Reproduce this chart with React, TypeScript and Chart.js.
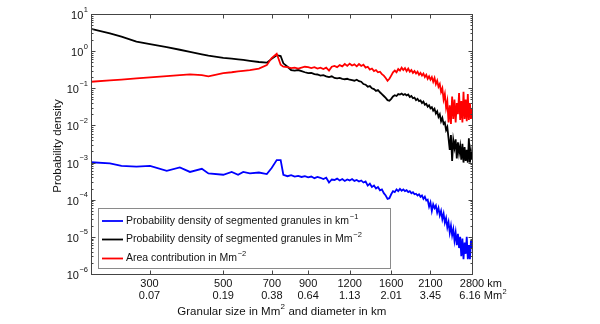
import React, { useEffect, useRef } from 'react';
import { Chart, registerables } from 'chart.js';

Chart.register(...registerables);

// Granule diameter in km (x positions of the binned distributions)
const diameterKm = [
  200, 228, 247, 274, 301, 338, 370, 397, 431, 451, 500, 530, 554, 574, 601, 640, 676, 699, 724, 744, 758,
  780, 800, 820, 840, 860, 880, 900, 920, 940, 960,
  980, 1000, 1020, 1040, 1060, 1080, 1100, 1120, 1140, 1160,
  1180, 1200, 1220, 1240, 1260, 1280, 1300, 1320, 1340, 1360,
  1380, 1400, 1420, 1440, 1460, 1480, 1500, 1520, 1540, 1560,
  1580, 1600, 1620, 1640, 1660, 1680, 1700, 1720, 1740, 1760,
  1780, 1800, 1820, 1840, 1860, 1880, 1900, 1920, 1940, 1960,
  1980, 2000, 2020, 2040, 2060, 2080, 2100, 2120, 2140, 2160,
  2180, 2200, 2220, 2240, 2260, 2280, 2300, 2320, 2340, 2360,
  2380, 2400, 2420, 2440, 2460, 2480, 2500, 2520, 2540, 2560,
  2580, 2600, 2620, 2640, 2660, 2680, 2700, 2720, 2740, 2760,
  2780, 2800,
];

// Probability density of segmented granules in km^-1 (blue)
const pdfPerKm = [
  1.02e-3, 9.5e-4, 8.1e-4, 7.8e-4, 8.1e-4, 6.0e-4, 7.4e-4, 5.6e-4, 6.8e-4, 5.1e-4, 4.7e-4, 5.6e-4, 4.7e-4, 5.6e-4, 5.1e-4, 5.4e-4, 4.9e-4, 7.1e-4, 1.17e-3, 1.17e-3, 4.7e-4,
  4.3e-4, 4.6e-4, 4.2e-4, 4.4e-4, 4.1e-4, 4.3e-4, 4.0e-4, 4.2e-4, 3.8e-4, 4.1e-4,
  3.9e-4, 3.6e-4, 3.9e-4, 2.9e-4, 3.5e-4, 3.4e-4, 3.7e-4, 3.3e-4, 3.6e-4, 3.2e-4,
  3.5e-4, 3.3e-4, 3.6e-4, 3.2e-4, 3.4e-4, 3.1e-4, 3.3e-4, 2.9e-4, 3.1e-4, 2.4e-4,
  2.7e-4, 2.2e-4, 2.4e-4, 2.0e-4, 2.2e-4, 1.8e-4, 1.9e-4, 1.5e-4, 1.3e-4, 1.05e-4,
  1.1e-4, 1.4e-4, 1.7e-4, 1.6e-4, 1.9e-4, 1.7e-4, 1.95e-4, 1.75e-4, 1.9e-4, 1.7e-4,
  1.8e-4, 1.6e-4, 1.7e-4, 1.5e-4, 1.6e-4, 1.4e-4, 1.45e-4, 1.3e-4, 1.4e-4, 1.2e-4,
  1.3e-4, 1.05e-4, 1.2e-4, 9.5e-5, 1.0e-4, 6.5e-5, 8.5e-5, 5.0e-5, 7.5e-5, 6.0e-5,
  7.0e-5, 4.5e-5, 6.0e-5, 3.8e-5, 5.0e-5, 3.0e-5, 4.2e-5, 2.4e-5, 3.2e-5, 1.8e-5,
  2.5e-5, 1.3e-5, 2.0e-5, 1.1e-5, 1.6e-5, 8.0e-6, 1.3e-5, 6.0e-6, 1.2e-5, 5.0e-6,
  1.0e-5, 3.0e-6, 9.0e-6, 2.5e-6, 7.0e-6, 3.5e-6, 1.0e-5, 2.5e-6, 6.0e-6, 2.5e-6,
  8.0e-6, 5.0e-6,
];

// Probability density of segmented granules in Mm^-2 (black)
const pdfPerMm2 = [
  4.0, 3.0, 2.45, 1.8, 1.55, 1.28, 1.09, 0.96, 0.82, 0.755, 0.66, 0.63, 0.60, 0.58, 0.55, 0.51, 0.49, 0.62, 0.78, 0.74, 0.47,
  0.38, 0.31, 0.30, 0.31, 0.29, 0.27, 0.255, 0.26, 0.24, 0.235,
  0.22, 0.225, 0.21, 0.20, 0.21, 0.19, 0.185, 0.19, 0.18, 0.175,
  0.18, 0.17, 0.165, 0.16, 0.17, 0.155, 0.15, 0.13, 0.125, 0.11,
  0.115, 0.10, 0.095, 0.085, 0.09, 0.078, 0.07, 0.062, 0.055, 0.048,
  0.046, 0.052, 0.06, 0.065, 0.062, 0.07, 0.068, 0.072, 0.066, 0.07,
  0.064, 0.068, 0.058, 0.062, 0.054, 0.056, 0.048, 0.052, 0.045, 0.047,
  0.04, 0.044, 0.036, 0.038, 0.032, 0.035, 0.029, 0.031, 0.025, 0.028,
  0.021, 0.024, 0.017, 0.02, 0.013, 0.016, 0.011, 0.012, 0.0075, 0.009,
  0.0045, 0.0022, 0.0055, 0.0011, 0.004, 0.0025, 0.0042, 0.0013, 0.0035, 0.0018,
  0.0028, 0.0012, 0.0032, 0.001, 0.0026, 0.0011, 0.0022, 0.001, 0.0045, 0.001,
  0.002, 0.0012,
];

// Area contribution in Mm^-2 (red)
const areaContribution = [
  0.150, 0.164, 0.172, 0.185, 0.197, 0.212, 0.225, 0.236, 0.225, 0.21, 0.255, 0.27, 0.285, 0.295, 0.31, 0.34, 0.42, 0.65, 0.85, 0.43, 0.38,
  0.37, 0.35, 0.36, 0.34, 0.36, 0.38, 0.37, 0.35, 0.37, 0.34,
  0.36, 0.33, 0.36, 0.30, 0.38, 0.40, 0.37, 0.42, 0.39, 0.45,
  0.40, 0.46, 0.41, 0.44, 0.39, 0.45, 0.40, 0.43, 0.36, 0.38,
  0.32, 0.34, 0.29, 0.31, 0.27, 0.28, 0.24, 0.22, 0.19, 0.16,
  0.18, 0.22, 0.27, 0.30, 0.27, 0.33, 0.30, 0.36, 0.31, 0.35,
  0.29, 0.34, 0.28, 0.31, 0.26, 0.29, 0.25, 0.28, 0.23, 0.26,
  0.22, 0.25, 0.20, 0.23, 0.18, 0.21, 0.17, 0.20, 0.15, 0.19,
  0.13, 0.16, 0.11, 0.13, 0.08, 0.10, 0.05, 0.07, 0.03, 0.045,
  0.012, 0.035, 0.011, 0.06, 0.015, 0.05, 0.012, 0.04, 0.02, 0.075,
  0.014, 0.045, 0.012, 0.08, 0.015, 0.05, 0.013, 0.07, 0.014, 0.04,
  0.015, 0.028,
];

const xTickKm = [300, 500, 700, 900, 1200, 1600, 2100, 2800];
const xTickKmLabels = ['300', '500', '700', '900', '1200', '1600', '2100', '2800'];
const xTickAreaLabels = ['0.07', '0.19', '0.38', '0.64', '1.13', '2.01', '3.45', '6.16'];
const yDecades = [-6, -5, -4, -3, -2, -1, 0, 1];

const legendLabels = [
  { text: 'Probability density of segmented granules in km', sup: '\u22121', color: '#0000ff' },
  { text: 'Probability density of segmented granules in Mm', sup: '\u22122', color: '#000000' },
  { text: 'Area contribution in Mm', sup: '\u22122', color: '#ff0000' },
];

const FONT = '"Liberation Sans", Arial, Helvetica, sans-serif';

const framePlugin = {
  id: 'matlabFrame',
  afterDraw(chart: any) {
    const { ctx, chartArea: a, scales } = chart;
    const xs = scales.x;
    const ys = scales.y;
    const L = Math.round(a.left) + 0.5;
    const R = Math.round(a.right) + 0.5;
    const T = Math.round(a.top) + 0.5;
    const B = Math.round(a.bottom) + 0.5;
    ctx.save();
    ctx.strokeStyle = '#444';
    ctx.lineWidth = 1;
    ctx.strokeRect(L, T, R - L, B - T);

    // y ticks (major + minor), both sides, inward
    ctx.beginPath();
    yDecades.forEach((e, idx) => {
      const y = Math.round(ys.getPixelForValue(Math.pow(10, e))) + 0.5;
      ctx.moveTo(L, y); ctx.lineTo(L + 4, y);
      ctx.moveTo(R, y); ctx.lineTo(R - 4, y);
      if (idx < yDecades.length - 1) {
        for (let m = 2; m <= 9; m++) {
          const ym = Math.round(ys.getPixelForValue(m * Math.pow(10, e))) + 0.5;
          ctx.moveTo(L, ym); ctx.lineTo(L + 2, ym);
          ctx.moveTo(R, ym); ctx.lineTo(R - 2, ym);
        }
      }
    });
    // x ticks, top and bottom, inward
    xTickKm.forEach((v) => {
      const x = Math.round(xs.getPixelForValue(v)) + 0.5;
      ctx.moveTo(x, B); ctx.lineTo(x, B - 4);
      ctx.moveTo(x, T); ctx.lineTo(x, T + 4);
    });
    ctx.stroke();

    // y tick labels 10^e
    ctx.fillStyle = '#111';
    yDecades.forEach((e) => {
      const y = ys.getPixelForValue(Math.pow(10, e));
      const sup = e < 0 ? '\u2212' + Math.abs(e) : String(e);
      ctx.font = `7.5px ${FONT}`;
      const wS = ctx.measureText(sup).width;
      const xS = a.left - 3 - wS;
      ctx.textAlign = 'left';
      ctx.textBaseline = 'middle';
      ctx.fillText(sup, xS, y - 4.5);
      ctx.font = `11px ${FONT}`;
      ctx.textAlign = 'right';
      ctx.fillText('10', xS - 0.5, y + 2);
    });

    // x tick labels (two rows)
    ctx.font = `11px ${FONT}`;
    ctx.textBaseline = 'middle';
    xTickKm.forEach((v, i) => {
      const x = xs.getPixelForValue(v);
      ctx.textAlign = 'center';
      ctx.fillText(xTickKmLabels[i], x, a.bottom + 9.5);
      ctx.fillText(xTickAreaLabels[i], x - (i === xTickKm.length - 1 ? 2 : 0), a.bottom + 22);
      if (i === xTickKm.length - 1) {
        const w1 = ctx.measureText(xTickKmLabels[i]).width;
        const w2 = ctx.measureText(xTickAreaLabels[i]).width;
        ctx.textAlign = 'left';
        ctx.fillText(' km', x + w1 / 2, a.bottom + 9.5);
        const mmX = x - 2 + w2 / 2;
        ctx.fillText(' Mm', mmX, a.bottom + 22);
        const wMm = ctx.measureText(' Mm').width;
        ctx.font = `7.5px ${FONT}`;
        ctx.fillText('2', mmX + wMm + 0.5, a.bottom + 17.5);
        ctx.font = `11px ${FONT}`;
      }
    });

    // x axis title with superscript
    {
      const partA = 'Granular size in Mm';
      const partSup = '2';
      const partB = ' and diameter in km';
      ctx.font = `11.5px ${FONT}`;
      const wA = ctx.measureText(partA).width;
      const wB = ctx.measureText(partB).width;
      ctx.font = `8px ${FONT}`;
      const wSup = ctx.measureText(partSup).width;
      const total = wA + wSup + wB;
      const cx = (a.left + a.right) / 2;
      const x0 = cx - total / 2;
      const yT = a.bottom + 38;
      ctx.textAlign = 'left';
      ctx.textBaseline = 'middle';
      ctx.font = `11.5px ${FONT}`;
      ctx.fillText(partA, x0, yT);
      ctx.font = `8px ${FONT}`;
      ctx.fillText(partSup, x0 + wA + 0.3, yT - 5);
      ctx.font = `11.5px ${FONT}`;
      ctx.fillText(partB, x0 + wA + wSup + 0.6, yT);
    }

    // y axis title
    ctx.save();
    ctx.translate(58, (a.top + a.bottom) / 2 + 2);
    ctx.rotate(-Math.PI / 2);
    ctx.font = `11.5px ${FONT}`;
    ctx.textAlign = 'center';
    ctx.textBaseline = 'middle';
    ctx.fillText('Probability density', 0, 0);
    ctx.restore();

    // legend
    const lx = 98, ly = 208, lw = 292, lh = 60;
    ctx.fillStyle = '#fff';
    ctx.fillRect(lx, ly, lw, lh);
    ctx.strokeStyle = '#8a8a8a';
    ctx.lineWidth = 1;
    ctx.strokeRect(lx + 0.5, ly + 0.5, lw, lh);
    const rowsY = [221, 239.5, 258.5];
    legendLabels.forEach((item, i) => {
      const y = rowsY[i];
      ctx.strokeStyle = item.color;
      ctx.lineWidth = 1.8;
      ctx.beginPath();
      ctx.moveTo(102, y); ctx.lineTo(123, y);
      ctx.stroke();
      ctx.fillStyle = '#111';
      ctx.font = `10.5px ${FONT}`;
      ctx.textAlign = 'left';
      ctx.textBaseline = 'middle';
      ctx.fillText(item.text, 126, y);
      const w = ctx.measureText(item.text).width;
      ctx.font = `7.5px ${FONT}`;
      ctx.fillText(item.sup, 126 + w + 0.8, y - 4.5);
    });
    ctx.restore();
  },
};

export default function App() {
  const ref = useRef<HTMLCanvasElement>(null);
  useEffect(() => {
    const toPts = (arr: number[]) => diameterKm.map((d, i) => ({ x: d, y: arr[i] }));
    const chart = new Chart(ref.current as HTMLCanvasElement, {
      type: 'line',
      data: {
        datasets: [
          { label: 'blue', data: toPts(pdfPerKm), borderColor: '#0000ff', borderWidth: 1.8, pointRadius: 0, tension: 0, order: 2 },
          { label: 'black', data: toPts(pdfPerMm2), borderColor: '#000000', borderWidth: 1.8, pointRadius: 0, tension: 0, order: 1 },
          { label: 'red', data: toPts(areaContribution), borderColor: '#ff0000', borderWidth: 1.8, pointRadius: 0, tension: 0, order: 0 },
        ],
      },
      options: {
        responsive: false,
        animation: false,
        devicePixelRatio: 1,
        layout: { padding: { left: 91, right: 128, top: 14, bottom: 50 } },
        plugins: { legend: { display: false }, tooltip: { enabled: false } },
        events: [],
        scales: {
          x: { type: 'logarithmic', min: 200, max: 2800, display: false },
          y: { type: 'logarithmic', min: 1e-6, max: 10, display: false },
        },
      },
      plugins: [framePlugin],
    } as any);
    return () => chart.destroy();
  }, []);
  return (
    <div style={{ position: 'fixed', left: 0, top: 0, width: 600, height: 324, background: '#fff' }}>
      <canvas ref={ref} width={600} height={324} style={{ display: 'block', width: 600, height: 324 }} />
    </div>
  );
}
